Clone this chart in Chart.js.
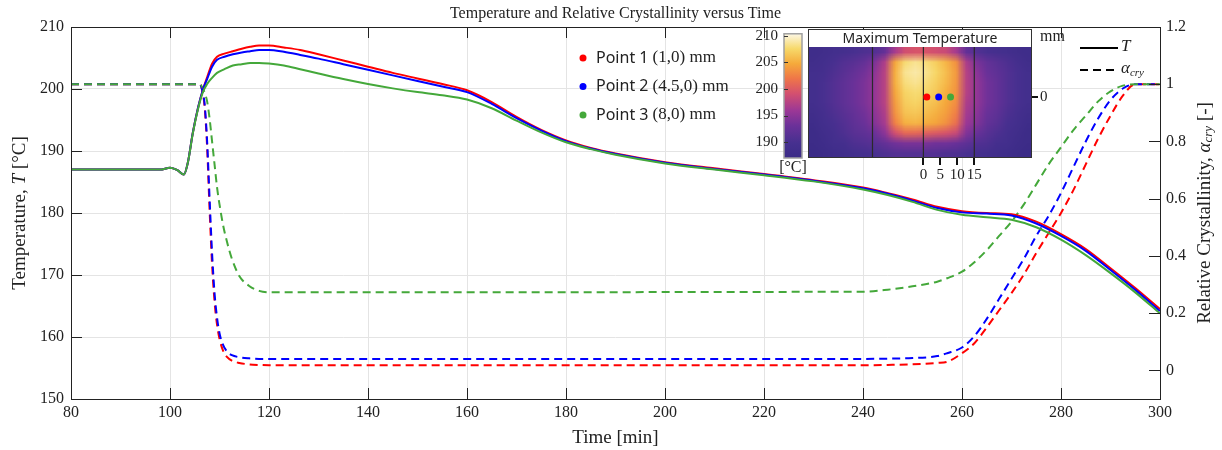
<!DOCTYPE html>
<html>
<head>
<meta charset="utf-8">
<script src="https://cdn.jsdelivr.net/npm/chart.js@4"></script>
<style>
  html, body { margin: 0; padding: 0; background: #fff; }
  #wrap { position: relative; width: 1222px; height: 450px; }
  #main { position: absolute; left: 0; top: 0; }
  #inset { position: absolute; left: 740px; top: 22px; }
</style>
</head>
<body>
<div id="wrap">
  <canvas id="main" width="1222" height="450"></canvas>
  <canvas id="inset" width="340" height="165"></canvas>
</div>
<script>
// time grid for the temperature histories [min]
const tTemp = [80, 95, 98, 100, 101.5, 102.8, 103.6, 104.6, 105.7, 106.7,
  107.5, 108.5, 109.5, 111, 112.7, 114.5, 116.2, 118, 120, 123,
  126.3, 130, 135, 140, 145, 150, 155, 160, 165, 170,
  175, 180, 185, 190, 200, 210, 220, 230, 240, 245,
  250, 255, 260, 265, 270, 275, 280, 285, 290, 295, 300];

const tempP1 = [187, 187, 187, 187.3, 186.9, 186.2, 188.1, 192.9, 197.1, 200.0,
  201.9, 204.1, 205.2, 205.7, 206.1, 206.5, 206.8, 207.0, 207.0, 206.7,
  206.3, 205.6, 204.6, 203.6, 202.6, 201.7, 200.8, 199.8, 197.9, 195.5,
  193.4, 191.7, 190.5, 189.6, 188.2, 187.2, 186.3, 185.3, 184.1, 183.2,
  182.2, 181.0, 180.3, 180.0, 179.8, 178.6, 176.6, 174.2, 171.1, 167.9, 164.5];
const tempP2 = [187, 187, 187, 187.3, 186.9, 186.2, 188.1, 192.9, 197.1, 200.0,
  201.6, 203.6, 204.7, 205.2, 205.6, 205.9, 206.1, 206.3, 206.3, 206.0,
  205.5, 204.9, 204.0, 203.1, 202.2, 201.3, 200.4, 199.5, 197.6, 195.3,
  193.3, 191.6, 190.4, 189.5, 188.1, 187.1, 186.2, 185.2, 184.0, 183.1,
  182.0, 180.8, 180.1, 179.9, 179.6, 178.3, 176.3, 173.9, 170.8, 167.6, 164.2];
const tempP3 = [187, 187, 187, 187.3, 186.9, 186.2, 188.1, 192.8, 196.9, 199.6,
  200.8, 201.8, 202.6, 203.2, 203.8, 204.0, 204.2, 204.2, 204.1, 203.8,
  203.2, 202.5, 201.6, 200.8, 200.1, 199.5, 199.0, 198.3, 196.9, 194.9,
  193.0, 191.4, 190.3, 189.4, 188.0, 187.0, 186.1, 185.1, 183.8, 182.9,
  181.8, 180.5, 179.7, 179.3, 178.9, 177.7, 175.7, 173.2, 170.3, 167.2, 163.8];

// time grid for the relative crystallinity histories [min]
const tAlpha = [80, 106, 106.5, 107, 107.5, 108, 108.5, 109, 109.5, 110,
  110.7, 111.5, 112.5, 114, 116, 118, 120, 240, 245, 250,
  255, 257, 260, 262.5, 265, 267.5, 270, 272.5, 275, 277.5,
  280, 282.5, 285, 287.5, 290, 292.5, 295, 297.5, 300];

const alphaP1 = [1, 1, 0.98, 0.92, 0.78, 0.56, 0.37, 0.24, 0.16, 0.11,
  0.07, 0.047, 0.034, 0.026, 0.021, 0.019, 0.018, 0.018, 0.019, 0.021,
  0.026, 0.03, 0.06, 0.095, 0.15, 0.21, 0.27, 0.335, 0.41, 0.48,
  0.55, 0.63, 0.72, 0.81, 0.89, 0.96, 1.0, 1.0, 1.0];
const alphaP2 = [1, 1, 0.98, 0.93, 0.8, 0.6, 0.41, 0.27, 0.185, 0.13,
  0.09, 0.066, 0.053, 0.046, 0.042, 0.04, 0.04, 0.04, 0.041, 0.043,
  0.05, 0.06, 0.08, 0.12, 0.18, 0.25, 0.32, 0.39, 0.47, 0.54,
  0.62, 0.71, 0.8, 0.88, 0.945, 0.985, 1.0, 1.0, 1.0];
const alphaP3 = [1, 1, 0.99, 0.97, 0.94, 0.88, 0.8, 0.72, 0.64, 0.58,
  0.51, 0.45, 0.39, 0.33, 0.295, 0.278, 0.273, 0.275, 0.282, 0.294,
  0.31, 0.322, 0.345, 0.378, 0.42, 0.47, 0.52, 0.58, 0.65, 0.72,
  0.78, 0.84, 0.89, 0.94, 0.975, 0.995, 1.0, 1.0, 1.0];

const pointNames = ['Point 1 ', 'Point 2 ', 'Point 3 '];
const pointCoords = ['(1,0) mm', '(4.5,0) mm', '(8,0) mm'];
const pointX = [1, 4.5, 8];
const pointColors = ['#ff0000', '#0000ff', '#44a83a'];

const alphaTicks = [0, 0.2, 0.4, 0.6, 0.8, 1, 1.2];

// maximum temperature field [°C], rows top to bottom, columns left to right
const hxMin = -34, hxMax = 32, hyMin = -17.9, hyMax = 14.7;
const heatRows = [
  [188, 188.5, 189, 189.5, 190, 190.5, 191, 192.5, 196.5, 199, 199.5, 199.5, 199, 198.5, 196.5, 192.5, 191, 190, 189.5, 189, 188.5, 188],
  [188.5, 189, 190, 191, 191.5, 192.5, 194, 197, 204.5, 207.8, 208.5, 208, 207, 205.5, 203.5, 197, 194, 192.5, 191.5, 190.5, 189.5, 188.5],
  [189, 189.5, 190.5, 191.5, 192.5, 193.5, 195, 197.5, 205, 208.5, 209, 208.5, 207.5, 206, 204, 197.5, 195, 193, 192, 191, 190, 189],
  [189, 190, 191, 192, 193, 194, 195.5, 197.5, 205, 208, 208.5, 208, 207, 205.7, 203.8, 197.5, 195.5, 193.5, 192.5, 191, 190, 189],
  [189, 190, 191, 192, 193, 194, 195.5, 197.5, 204.5, 207.3, 207.8, 207.5, 206.6, 205.1, 203.6, 197.5, 195.5, 193.5, 192.5, 191, 190, 189],
  [189, 190, 191, 192, 193, 194, 195.5, 197.5, 204, 206.8, 207.3, 206.7, 206, 204.7, 203.2, 197, 195.5, 193.5, 192.5, 191, 190, 189],
  [188.5, 189.5, 190.5, 191.5, 192.5, 193.5, 195, 197, 203.5, 206.2, 206.5, 206, 205.2, 204.2, 202.5, 196.5, 195, 193, 192, 190.5, 189.5, 188.5],
  [188, 189, 190, 191, 192, 193, 194.5, 196.5, 202.5, 205.2, 205.5, 205, 204.5, 203.5, 201.5, 196, 194.5, 192.5, 191.5, 190, 189, 188],
  [187.5, 188.5, 189.5, 190.5, 191.5, 192, 193, 195, 199, 201, 201, 200.5, 200, 199.5, 198.5, 194.5, 193, 191.5, 190.5, 189.5, 188.5, 187.5],
  [187.5, 188, 189, 189.5, 190.5, 191, 191.5, 192.5, 193.5, 194, 194, 194, 193.5, 193.5, 193, 192, 191, 190.5, 189.5, 189, 188, 187.5],
  [187, 187.5, 188, 188.5, 189, 189.5, 190, 190.5, 191, 191, 191, 191, 191, 190.5, 190.5, 190, 189.5, 189, 188.5, 188, 187.5, 187]
];
const cbMin = 187, cbMax = 210.4;
const cbTicks = [190, 195, 200, 205, 210];
const heatLines = [-15, 0, 15];
const heatXTicks = [0, 5, 10, 15];

const serif = "'Liberation Serif', 'Times New Roman', serif";
const sans = "'Noto Sans', 'Open Sans', sans-serif";
const ink = '#222';
const gridColor = '#e4e4e4';

const cmapStops = [
  [0, '#3b2b87'], [0.12, '#46308f'], [0.26, '#6b3199'], [0.38, '#9b3796'],
  [0.52, '#d4506f'], [0.64, '#ef7648'], [0.76, '#f5aa3b'], [0.88, '#f7d96a'], [1, '#fcf7e6']
];

function hexRgb(h) {
  return [parseInt(h.slice(1, 3), 16), parseInt(h.slice(3, 5), 16), parseInt(h.slice(5, 7), 16)];
}
function cmap(f) {
  f = Math.max(0, Math.min(1, f));
  for (let i = 1; i < cmapStops.length; i++) {
    if (f <= cmapStops[i][0]) {
      const [p0, c0] = cmapStops[i - 1], [p1, c1] = cmapStops[i];
      const k = (f - p0) / (p1 - p0), a = hexRgb(c0), b = hexRgb(c1);
      return a.map((v, j) => Math.round(v + (b[j] - v) * k));
    }
  }
  return hexRgb(cmapStops[cmapStops.length - 1][1]);
}

function pts(xs, ys) { return xs.map((x, i) => ({ x: x, y: ys[i] })); }

// text made of runs with their own fonts (italics, subscripts)
function drawRuns(ctx, runs, x, y, align) {
  let w = 0;
  runs.forEach(r => { ctx.font = r.font; w += ctx.measureText(r.text).width; });
  let cx = align === 'center' ? x - w / 2 : x;
  ctx.textAlign = 'left';
  ctx.textBaseline = 'middle';
  runs.forEach(r => {
    ctx.font = r.font;
    ctx.fillText(r.text, cx, y + (r.dy || 0));
    cx += ctx.measureText(r.text).width;
  });
}

const lineBase = { pointRadius: 0, borderWidth: 2, fill: false, cubicInterpolationMode: 'monotone' };
const temps = [tempP1, tempP2, tempP3];
const alphas = [alphaP1, alphaP2, alphaP3];
const datasets = [];
[2, 1, 0].forEach((i, k) => {
  datasets.push(Object.assign({}, lineBase, {
    label: 'T ' + pointNames[i], data: pts(tTemp, temps[i]), borderColor: pointColors[i], yAxisID: 'y', order: k
  }));
  datasets.push(Object.assign({}, lineBase, {
    label: 'alpha ' + pointNames[i], data: pts(tAlpha, alphas[i]), borderColor: pointColors[i],
    borderDash: [8, 5], yAxisID: 'y1', order: k + 3
  }));
});

const axesPlugin = {
  id: 'axesDecor',
  afterDraw(chart) {
    const { ctx, chartArea: a, scales: { x, y, y1 } } = chart;
    ctx.save();
    ctx.strokeStyle = ink;
    ctx.lineWidth = 1;
    ctx.strokeRect(Math.round(a.left) + 0.5, Math.round(a.top) + 0.5, Math.round(a.right - a.left), Math.round(a.bottom - a.top));
    const tl = 11;
    ctx.beginPath();
    x.ticks.forEach(t => {
      const px = Math.round(x.getPixelForValue(t.value)) + 0.5;
      ctx.moveTo(px, a.bottom); ctx.lineTo(px, a.bottom - tl);
      ctx.moveTo(px, a.top); ctx.lineTo(px, a.top + tl);
    });
    y.ticks.forEach(t => {
      const py = Math.round(y.getPixelForValue(t.value)) + 0.5;
      ctx.moveTo(a.left, py); ctx.lineTo(a.left + tl, py);
    });
    y1.ticks.forEach(t => {
      const py = Math.round(y1.getPixelForValue(t.value)) + 0.5;
      ctx.moveTo(a.right, py); ctx.lineTo(a.right - tl, py);
    });
    ctx.stroke();

    ctx.fillStyle = ink;
    const cx = (a.left + a.right) / 2, cy = (a.top + a.bottom) / 2;
    drawRuns(ctx, [{ text: 'Temperature and Relative Crystallinity versus Time', font: '16px ' + serif }], cx, 14, 'center');
    drawRuns(ctx, [{ text: 'Time [min]', font: '19px ' + serif }], cx, 438, 'center');

    ctx.save();
    ctx.translate(20, cy);
    ctx.rotate(-Math.PI / 2);
    drawRuns(ctx, [
      { text: 'Temperature, ', font: '19px ' + serif },
      { text: 'T', font: 'italic 19px ' + serif },
      { text: ' [°C]', font: '19px ' + serif }
    ], 0, 0, 'center');
    ctx.restore();

    ctx.save();
    ctx.translate(1205, cy);
    ctx.rotate(-Math.PI / 2);
    drawRuns(ctx, [
      { text: 'Relative Crystallinity, ', font: '19px ' + serif },
      { text: 'α', font: 'italic 19px ' + serif },
      { text: 'cry', font: 'italic 13px ' + serif, dy: 4 },
      { text: ' [-]', font: '19px ' + serif }
    ], 0, 0, 'center');
    ctx.restore();

    // point legend
    pointNames.forEach((name, i) => {
      const ly = 58 + i * 28.5;
      ctx.fillStyle = pointColors[i];
      ctx.beginPath();
      ctx.arc(583, ly, 3.5, 0, Math.PI * 2);
      ctx.fill();
      ctx.fillStyle = ink;
      drawRuns(ctx, [
        { text: name, font: '16px ' + sans },
        { text: pointCoords[i], font: '17px ' + serif }
      ], 596, ly, 'left');
    });

    // line style legend
    ctx.strokeStyle = '#000';
    ctx.lineWidth = 2;
    ctx.beginPath(); ctx.moveTo(1080, 48); ctx.lineTo(1118, 48); ctx.stroke();
    ctx.setLineDash([8, 5]);
    ctx.beginPath(); ctx.moveTo(1080, 70); ctx.lineTo(1118, 70); ctx.stroke();
    ctx.setLineDash([]);
    ctx.fillStyle = ink;
    drawRuns(ctx, [{ text: 'T', font: 'italic 17px ' + serif }], 1121, 47, 'left');
    drawRuns(ctx, [
      { text: 'α', font: 'italic 17px ' + serif },
      { text: 'cry', font: 'italic 11px ' + serif, dy: 4 }
    ], 1121, 69, 'left');
    ctx.restore();
  }
};

new Chart(document.getElementById('main'), {
  type: 'line',
  data: { datasets: datasets },
  options: {
    responsive: false,
    animation: false,
    layout: { padding: { top: 27, left: 0, right: 0, bottom: 0 } },
    plugins: { legend: { display: false }, tooltip: { enabled: false }, title: { display: false } },
    scales: {
      x: {
        type: 'linear', min: 80, max: 300,
        ticks: { stepSize: 20, color: ink, font: { family: serif, size: 16 }, padding: 4, maxRotation: 0 },
        grid: { color: gridColor, drawTicks: false },
        border: { display: false },
        afterFit(s) { s.height = 51; }
      },
      y: {
        position: 'left', min: 150, max: 210,
        ticks: { stepSize: 10, color: ink, font: { family: serif, size: 16 }, padding: 7 },
        grid: { color: gridColor, drawTicks: false },
        border: { display: false },
        afterFit(s) { s.width = 71; }
      },
      y1: {
        position: 'right', min: -0.1, max: 1.2,
        afterBuildTicks(s) { s.ticks = alphaTicks.map(v => ({ value: v })); },
        ticks: { color: ink, font: { family: serif, size: 16 }, padding: 6, callback: v => String(+(+v).toFixed(1)) },
        grid: { display: false, drawTicks: false },
        border: { display: false },
        afterFit(s) { s.width = 62; }
      }
    }
  },
  plugins: [axesPlugin]
});

// inset: maximum temperature map with colour bar
const heatPlugin = {
  id: 'heatMap',
  beforeDatasetsDraw(chart) {
    const { ctx, scales: { x, y } } = chart;
    const rows = heatRows.length, cols = heatRows[0].length;
    const off = document.createElement('canvas');
    off.width = cols + 2; off.height = rows + 2;
    const octx = off.getContext('2d');
    const img = octx.createImageData(cols + 2, rows + 2);
    for (let r = 0; r < rows + 2; r++) {
      for (let c = 0; c < cols + 2; c++) {
        const v = heatRows[Math.min(rows - 1, Math.max(0, r - 1))][Math.min(cols - 1, Math.max(0, c - 1))];
        const rgb = cmap((v - cbMin) / (cbMax - cbMin));
        const k = (r * (cols + 2) + c) * 4;
        img.data[k] = rgb[0]; img.data[k + 1] = rgb[1]; img.data[k + 2] = rgb[2]; img.data[k + 3] = 255;
      }
    }
    octx.putImageData(img, 0, 0);
    const x0 = x.getPixelForValue(hxMin), x1 = x.getPixelForValue(hxMax);
    const y0 = y.getPixelForValue(hyMax), y1 = y.getPixelForValue(hyMin);
    ctx.save();
    ctx.imageSmoothingEnabled = true;
    ctx.drawImage(off, 1, 1, cols, rows, x0, y0, x1 - x0, y1 - y0);
    ctx.restore();
  },
  afterDatasetsDraw(chart) {
    const { ctx, chartArea: a, scales: { y, c } } = chart;
    ctx.save();
    // title band
    const bandBottom = y.getPixelForValue(hyMax);
    ctx.fillStyle = '#fff';
    ctx.fillRect(a.left, a.top, a.right - a.left, bandBottom - a.top);
    ctx.fillStyle = ink;
    drawRuns(ctx, [{ text: 'Maximum Temperature', font: '14px ' + sans }], (a.left + a.right) / 2, (a.top + bandBottom) / 2 + 1, 'center');
    ctx.strokeStyle = '#333';
    ctx.lineWidth = 1;
    ctx.strokeRect(Math.round(a.left) + 0.5, Math.round(a.top) + 0.5, Math.round(a.right - a.left) - 1, Math.round(a.bottom - a.top) - 1);

    // colour bar
    const bx0 = a.left - 24, bx1 = a.left - 6;
    const by0 = c.getPixelForValue(cbMax), by1 = c.getPixelForValue(cbMin);
    const grad = ctx.createLinearGradient(0, by1, 0, by0);
    cmapStops.forEach(s => grad.addColorStop(s[0], s[1]));
    ctx.fillStyle = grad;
    ctx.fillRect(bx0, by0, bx1 - bx0, by1 - by0);
    ctx.strokeStyle = '#a0a0a0';
    ctx.lineWidth = 1.5;
    ctx.strokeRect(bx0, by0, bx1 - bx0, by1 - by0);
    ctx.strokeStyle = '#333';
    ctx.lineWidth = 1;
    ctx.beginPath();
    cbTicks.forEach(v => {
      const py = Math.round(c.getPixelForValue(v)) + 0.5;
      ctx.moveTo(bx0, py); ctx.lineTo(bx0 + 4, py);
    });
    ctx.stroke();
    ctx.fillStyle = ink;
    drawRuns(ctx, [{ text: '[°C]', font: '16px ' + serif }], (bx0 + bx1) / 2, by1 + 10, 'center');
    drawRuns(ctx, [{ text: 'mm', font: '16px ' + serif }], a.right + 8, a.top + 8, 'left');
    ctx.restore();
  }
};

const insetData = [];
heatLines.forEach(v => {
  insetData.push({
    type: 'line', data: [{ x: v, y: hyMin }, { x: v, y: hyMax }],
    borderColor: '#2a2a2a', borderWidth: 1.2, pointRadius: 0, order: 2
  });
});
insetData.push({
  type: 'scatter', data: pointX.map(v => ({ x: v, y: 0 })),
  backgroundColor: pointColors, borderWidth: 0, pointRadius: 3.5, order: 1
});

function noPad(s) { s.paddingTop = 0; s.paddingBottom = 0; }

new Chart(document.getElementById('inset'), {
  type: 'scatter',
  data: { datasets: insetData },
  options: {
    responsive: false,
    animation: false,
    layout: { padding: { top: 7, left: 0, right: 0, bottom: 0 } },
    plugins: { legend: { display: false }, tooltip: { enabled: false } },
    scales: {
      x: {
        type: 'linear', min: hxMin, max: hxMax,
        afterBuildTicks(s) { s.ticks = heatXTicks.map(v => ({ value: v })); },
        ticks: { color: ink, font: { family: serif, size: 15 }, padding: 1, maxRotation: 0 },
        grid: { drawOnChartArea: false, drawTicks: true, tickLength: 7, color: '#111', lineWidth: 2 },
        border: { display: false },
        afterFit(s) { s.height = 29; s.paddingLeft = 0; s.paddingRight = 0; }
      },
      y: {
        type: 'linear', position: 'right', min: hyMin, max: 19.95,
        afterBuildTicks(s) { s.ticks = [{ value: 0 }]; },
        ticks: { color: ink, font: { family: serif, size: 15 }, padding: 2 },
        grid: { drawOnChartArea: false, drawTicks: true, tickLength: 6, color: '#111', lineWidth: 2 },
        border: { display: false },
        afterFit(s) { s.width = 48; noPad(s); }
      },
      c: {
        type: 'linear', position: 'left', min: cbMin, max: 211.3,
        afterBuildTicks(s) { s.ticks = cbTicks.map(v => ({ value: v })); },
        ticks: { color: ink, font: { family: serif, size: 15 }, padding: 30 },
        grid: { display: false, drawTicks: false },
        border: { display: false },
        afterFit(s) { s.width = 68; noPad(s); }
      }
    }
  },
  plugins: [heatPlugin]
});
</script>
</body>
</html>
